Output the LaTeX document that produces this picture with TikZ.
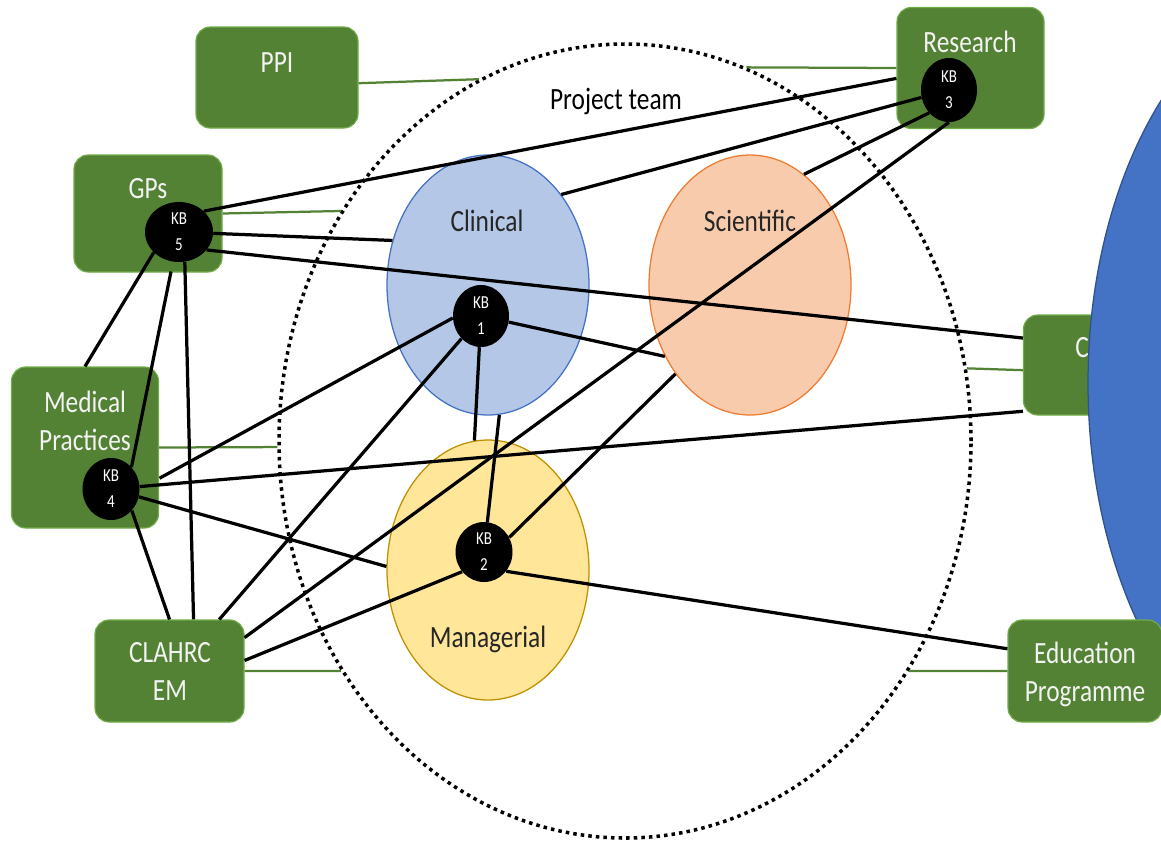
\documentclass[tikz,border=0pt]{standalone}
\usepackage{fontspec}
\setmainfont{Carlito}[FakeStretch=0.82]
\usetikzlibrary{shapes.geometric}

% lengths given in picture units (1 unit = 0.025cm)
\newcommand\pu[1]{#1*0.025cm}

\definecolor{boxgreen}{RGB}{84,130,53}
\definecolor{boxedge}{RGB}{112,173,71}
\definecolor{clinfill}{RGB}{180,199,231}
\definecolor{clinedge}{RGB}{68,114,196}
\definecolor{scifill}{RGB}{248,203,173}
\definecolor{sciedge}{RGB}{237,125,49}
\definecolor{manfill}{RGB}{255,230,153}
\definecolor{manedge}{RGB}{191,144,0}
\definecolor{bigblue}{RGB}{68,114,196}
\definecolor{bigedge}{RGB}{47,82,143}
\definecolor{labelgray}{RGB}{38,38,38}
\definecolor{boxtext}{RGB}{242,242,242}

\tikzset{
  orgbox/.style={rectangle, rounded corners=10pt, fill=boxgreen, draw=boxedge,
    line width=0.8pt, inner sep=0pt},
  groupellipse/.style={ellipse, inner sep=0pt, line width=0.9pt},
  teamellipse/.style={ellipse, draw=black, line width=2.5pt,
    dash pattern=on 2.5pt off 2.9pt, inner sep=0pt},
  kbnode/.style={ellipse, fill=black, inner sep=0pt},
  kbtext/.style={text=white, font=\fontsize{13}{18.4}\selectfont, align=center, inner sep=0pt},
  boxlabel/.style={text=boxtext, font=\fontsize{22}{27.5}\selectfont, align=center, inner sep=0pt},
  grouplabel/.style={text=labelgray, font=\fontsize{22}{27.5}\selectfont, inner sep=0pt, anchor=base},
  link/.style={line width=2.3pt, black},
  tie/.style={line width=1.6pt, boxgreen},
}

\begin{document}
\begin{tikzpicture}[x=0.025cm, y=-0.025cm]
\useasboundingbox (0,0) rectangle (1161,843);

% project team and its three groups
\node[teamellipse, minimum width={\pu{692}}, minimum height={\pu{794}}] (team) at (625,441) {};
\node[groupellipse, fill=clinfill, draw=clinedge, minimum width={\pu{202}}, minimum height={\pu{260}}] (clin) at (488,285) {};
\node[groupellipse, fill=scifill, draw=sciedge, minimum width={\pu{202}}, minimum height={\pu{260}}] (sci) at (750,285) {};
\node[groupellipse, fill=manfill, draw=manedge, minimum width={\pu{202}}, minimum height={\pu{260}}] (man) at (488,570) {};

\node[grouplabel, text=black] (teamlbl) at (616,109) {Project team};
\node[grouplabel] (clinlbl) at (487,231) {Clinical};
\node[grouplabel] (scilbl) at (750,231) {Scientific};
\node[grouplabel] (manlbl) at (488,647) {Managerial};

% partner organisations
\node[orgbox, minimum width={\pu{162}}, minimum height={\pu{101}}] (ppi) at (277,77.5) {};
\node[orgbox, minimum width={\pu{147}}, minimum height={\pu{121}}] (research) at (970.5,68) {};
\node[orgbox, minimum width={\pu{148}}, minimum height={\pu{117}}] (gps) at (148,213.5) {};
\node[orgbox, minimum width={\pu{147}}, minimum height={\pu{161}}] (med) at (85,447.5) {};
\node[orgbox, minimum width={\pu{149}}, minimum height={\pu{102}}] (clahrc) at (169.5,671) {};
\node[orgbox, minimum width={\pu{147}}, minimum height={\pu{100}}] (cbox) at (1097,365) {};

\node[boxlabel, anchor=base] (ppilbl) at (277,72) {PPI};
\node[boxlabel, anchor=base] (researchlbl) at (970,52) {Research};
\node[boxlabel, anchor=base] (gpslbl) at (148,198) {GPs};
\node[boxlabel] (medlbl) at (85,421) {Medical\\Practices};
\node[boxlabel] (clahrclbl) at (170,671.5) {CLAHRC\\EM};
\node[boxlabel, anchor=base west] (clbl) at (1075,357) {C};

% large blue ellipse at the right edge
\node[ellipse, fill=bigblue, draw=bigedge, line width=0.9pt, inner sep=0pt,
  minimum width={\pu{500}}, minimum height={\pu{800}}] (big) at (1338,383) {};

\node[orgbox, minimum width={\pu{154}}, minimum height={\pu{102}}] (edu) at (1085,671) {};
\node[boxlabel] (edulbl) at (1085,674.5) {Education\\Programme};

% knowledge brokers
\node[kbnode, minimum width={\pu{56}}, minimum height={\pu{62}}] (kb1) at (481,316) {};
\node[kbnode, minimum width={\pu{57}}, minimum height={\pu{60}}] (kb2) at (484,552) {};
\node[kbnode, minimum width={\pu{56}}, minimum height={\pu{64}}] (kb3) at (949,90) {};
\node[kbnode, minimum width={\pu{57}}, minimum height={\pu{62}}] (kb4) at (111,489) {};
\node[kbnode, minimum width={\pu{68}}, minimum height={\pu{60}}] (kb5) at (179,232) {};
\node[kbtext] (kb1t) at (kb1) {KB\\1};
\node[kbtext] (kb2t) at (kb2) {KB\\2};
\node[kbtext] (kb3t) at (kb3) {KB\\3};
\node[kbtext] (kb4t) at (kb4) {KB\\4};
\node[kbtext] (kb5t) at (kb5) {KB\\5};

% organisations tied to the project team
\draw[tie] (ppi.356) -- (team.112);
\draw[tie] (research.west) -- (team.72);
\draw[tie] (gps.east) -- (team.141);
\draw[tie] (med.east) -- (team.181);
\draw[tie] (clahrc.east) -- (team.219);
\draw[tie] (cbox.184) -- (team.12);
\draw[tie] (edu.west) -- (team.321);

% knowledge broker links
\draw[link] (kb5.40) -- (research.188);
\draw[link] (kb5) -- (clin.155);
\draw[link] (kb5.327) -- (cbox.160);
\draw[link] (kb5.219) -- (med.north);
\draw[link, shorten <=7pt] (kb5) -- (kb4.47);
\draw[link] (kb5.281) -- (clahrc.65);
\draw[link, shorten <=16pt] (kb4.east) -- (kb1.184);
\draw[link] (kb4) -- (cbox.212);
\draw[link] (kb4) -- (man.178);
\draw[link] (kb4.314) -- (clahrc.north);
\draw[link] (clahrc.46) -- (kb1);
\draw[link] (clahrc.24) -- (kb3.south);
\draw[link] (clahrc.8) -- (kb2.222);
\draw[link] (kb1) -- (sci.220);
\draw[link] (kb1) -- (man.96);
\draw[link] (clin.275) -- (kb2);
\draw[link] (kb2.30) -- (sci.230);
\draw[link] (kb2.319) -- (edu.164);
\draw[link] (clin.51) -- (kb3);
\draw[link] (sci.64) -- (kb3.229);
\end{tikzpicture}
\end{document}
